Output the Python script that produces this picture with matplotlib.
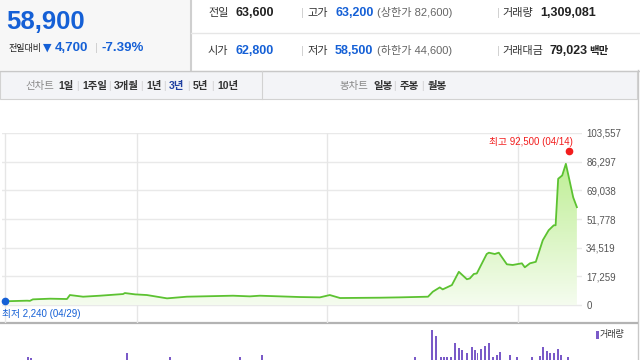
import numpy as np
import matplotlib
matplotlib.use('Agg')
import matplotlib.pyplot as plt
from matplotlib.patches import Polygon, Rectangle
from matplotlib.colors import LinearSegmentedColormap

plt.rcParams['font.family'] = ['Liberation Sans', 'Noto Sans CJK KR']

# 시세 요약
price_now = '58,900'
change_abs = '4,700'
change_pct = '-7.39%'
row1_labels = ['전일', '고가', '거래량']
row1_values = ['63,600', '63,200', '1,309,081']
row2_labels = ['시가', '저가', '거래대금']
row2_values = ['62,800', '58,500', '79,023']
limit_up = '(상한가 82,600)'
limit_down = '(하한가 44,600)'

# 기간 탭
line_tabs = ['1일', '1주일', '3개월', '1년', '3년', '5년', '10년']
candle_tabs = ['일봉', '주봉', '월봉']

# 주간 종가 (주 단위 x, 원)
weeks = [0, 6.0, 6.8, 7.6, 12.3, 16.9, 17.7, 21.3, 25.9, 32.2, 32.7, 35.5, 38.7,
         44.2, 49.6, 62.2, 66.8, 69.5, 80.4, 85.9, 88.6, 91.4, 102.3, 107.7,
         115.4, 116.7, 118.6, 119.4, 121.9, 123.8, 126.0, 126.8, 127.9, 128.7,
         131.4, 132.0, 133.6, 134.7, 136.9, 138.5, 141.0, 141.8, 143.2, 144.8,
         146.7, 148.3, 149.7, 150.2, 150.9, 152.0, 153.0, 153.8, 155.0, 156.0]
closes = [2240, 2600, 2500, 3400, 3800, 3600, 6000, 5000, 5600, 6600, 7200, 6400, 6000,
          4000, 5000, 5600, 5200, 5600, 4800, 4600, 6000, 4200, 4400, 4600,
          5000, 8000, 10600, 9400, 12000, 20000, 15500, 16000, 18700, 19000,
          30700, 31500, 30700, 31500, 24500, 24100, 25100, 22700, 25100, 26000,
          39000, 45000, 48000, 48000, 76000, 78000, 85000, 77000, 64800, 58900]
year_marks = [0, 36.0, 87.8, 139.9]
yticks = [0, 17259, 34519, 51778, 69038, 86297, 103557]

high_week, high_price, high_date = 153.8, 92500, '04/14'
low_week, low_price, low_date = 0, 2240, '04/29'

# 거래량 (보이는 막대만)
vol_weeks = [6.3, 7.1, 33.3, 45, 64.1, 70.1, 111.8, 116.4, 117.5, 118.9, 119.7, 120.5,
             121.6, 122.7, 123.8, 124.6, 126.0, 127.3, 128.1, 128.9, 129.8, 130.9,
             132.0, 133.1, 134.2, 135.0, 137.7, 139.6, 143.7, 145.9, 146.7, 147.8,
             148.6, 149.7, 150.8, 151.6, 153.5]
vol_values = [66, 65, 70, 66, 66, 68, 66, 94, 88, 66, 66, 66,
              66, 80, 75, 73, 70, 76, 73, 70, 74, 77,
              80, 66, 68, 71, 68, 66, 66, 67, 76, 72,
              70, 70, 74, 68, 66]

blue = '#1560d6'
fig = plt.figure(figsize=(6.4, 3.6), dpi=100)

# 배경 (픽셀 좌표)
bg = fig.add_axes([0, 0, 1, 1])
bg.set_xlim(0, 640)
bg.set_ylim(360, 0)
bg.axis('off')
bg.add_patch(Rectangle((0, 0), 190, 70, fc='#f7f7f7', ec='none'))
bg.plot([190.5, 190.5], [0, 70], color='#cfcfcf', lw=1.5)
bg.plot([191, 640], [33, 33], color='#e6e6e6', lw=1)
bg.plot([0, 640], [70.5, 70.5], color='#c8c8c8', lw=1)
bg.add_patch(Rectangle((0, 71), 637, 28, fc='#f3f4f7', ec='#d2d2d2', lw=0.8))
bg.plot([262, 262], [71, 99], color='#d2d2d2', lw=0.8)
bg.plot([637.5, 637.5], [70, 360], color='#c8c8c8', lw=1)
bg.plot([0, 637], [323, 323], color='#b3b3b3', lw=1.6)

bg.text(6, 22, price_now, color=blue, fontsize=18.5, fontweight='bold', va='center')
bg.text(8, 48, '전일대비', color='#222', fontsize=6.5, va='center')
bg.text(43, 48, '▼', color=blue, fontsize=8, va='center', family=['DejaVu Sans'])
bg.text(55, 48, change_abs, color=blue, fontsize=9.5, fontweight='bold', va='center')
bg.text(95, 48, '|', color='#ccc', fontsize=8, va='center')
bg.text(101, 48, change_pct, color=blue, fontsize=9.5, fontweight='bold', va='center')

label_x = [208, 307, 502]
value_x = [235, 335, 540]
for ry, labs, vals in [(13, row1_labels, row1_values), (51, row2_labels, row2_values)]:
    for i in range(3):
        bg.text(label_x[i], ry, labs[i], color='#333', fontsize=8, va='center')
        col = blue if (i == 1 or (ry == 51 and i == 0)) else '#222'
        vx = value_x[i] if not (ry == 51 and i == 2) else 549
        bg.text(vx, ry, vals[i], color=col, fontsize=9, fontweight='bold', va='center')
    bg.text(301, ry, '|', color='#ccc', fontsize=8, va='center')
    bg.text(497, ry, '|', color='#ccc', fontsize=8, va='center')
bg.text(377, 13, limit_up, color='#666', fontsize=8, va='center')
bg.text(377, 51, limit_down, color='#666', fontsize=8, va='center')
bg.text(589, 51, '백만', color='#222', fontsize=7.5, fontweight='bold', va='center')

bg.text(25, 86, '선차트', color='#888', fontsize=7.5, va='center')
tab_x = [58, 82, 114, 146, 169, 193, 217]
for i, t in enumerate(line_tabs):
    c = '#1f3fa0' if t == '3년' else '#333'
    bg.text(tab_x[i], 86, t, color=c, fontsize=7.5, fontweight='bold', va='center')
    if i > 0:
        bg.text(tab_x[i] - 6, 86, '|', color='#ccc', fontsize=7, va='center')
bg.text(339, 86, '봉차트', color='#888', fontsize=7.5, va='center')
ctab_x = [373, 400, 428]
for i, t in enumerate(candle_tabs):
    bg.text(ctab_x[i], 86, t, color='#333', fontsize=7.5, fontweight='bold', va='center')
    if i > 0:
        bg.text(ctab_x[i] - 7, 86, '|', color='#ccc', fontsize=7, va='center')

# 가격 차트
ax = fig.add_axes([2 / 640, 1 - 323 / 360, 580 / 640, 190 / 360])
ax.set_facecolor('none')
for s in ax.spines.values():
    s.set_visible(False)
for t in yticks:
    ax.axhline(t, color='#e9e9e9', lw=1, zorder=0)
for w in year_marks:
    ax.axvline(w, color='#e6e6e6', lw=1, zorder=0)

xmin, xmax = -0.82, 157.4
grad = np.linspace(0, 1, 256).reshape(-1, 1)
cmap = LinearSegmentedColormap.from_list('g', ['#f5fcef', '#bdee92'])
im = ax.imshow(grad, extent=[weeks[0], weeks[-1], 0, 88000], origin='lower',
               aspect='auto', cmap=cmap, zorder=1)
verts = list(zip(weeks, closes)) + [(weeks[-1], 0), (weeks[0], 0)]
poly = Polygon(verts, closed=True, fc='none', ec='none')
ax.add_patch(poly)
im.set_clip_path(poly)
ax.plot(weeks, closes, color='#5cc231', lw=1.3, zorder=3)

ax.plot(high_week, high_price, 'o', color='#f21d1d', ms=4.5, zorder=4)
ax.annotate(f'최고 {high_price:,} ({high_date})', xy=(high_week, high_price),
            xytext=(3, 7), textcoords='offset points', ha='right', va='center',
            color='#f21d1d', fontsize=7)
ax.plot(low_week, low_price, 'o', color=blue, ms=4.5, zorder=4, clip_on=False)
ax.annotate(f'최저 {low_price:,} ({low_date})', xy=(low_week, low_price),
            xytext=(-2, -9), textcoords='offset points', ha='left', va='center',
            color=blue, fontsize=7)

ax.set_xlim(xmin, xmax)
ax.set_ylim(-10837, 103557)
ax.set_xticks([])
ax.set_yticks(yticks)
ax.set_yticklabels([f'{v:,}' for v in yticks])
ax.yaxis.tick_right()
ax.tick_params(axis='y', length=0, pad=3, labelsize=7, labelcolor='#555')

# 거래량
vax = fig.add_axes([2 / 640, 1 - 420 / 360, 580 / 640, 96 / 360])
vax.set_facecolor('none')
vax.axis('off')
vax.bar(vol_weeks, vol_values, width=0.5, color='#7a5ac8')
vax.set_xlim(xmin, xmax)
vax.set_ylim(0, 100)

bg.add_patch(Rectangle((596, 331), 2.5, 8, fc='#7a5ac8', ec='none'))
bg.text(600, 335, '거래량', color='#333', fontsize=6.5, va='center')

fig.savefig('out.png', dpi=100)
